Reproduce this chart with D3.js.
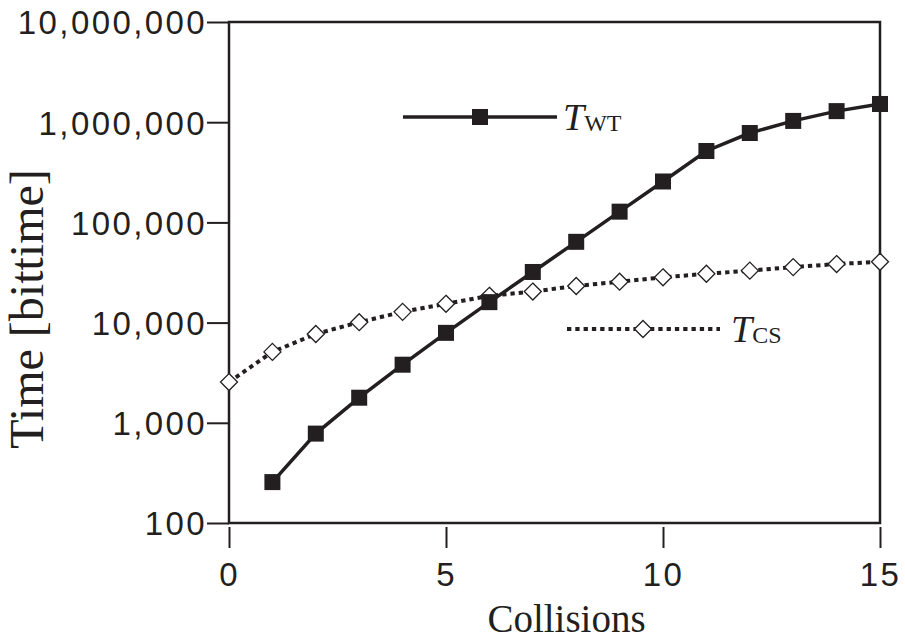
<!DOCTYPE html>
<html>
<head>
<meta charset="utf-8">
<script src="https://cdn.jsdelivr.net/npm/d3@7"></script>
<style>
  body { margin: 0; background: #fff; }
</style>
</head>
<body>
<svg id="chart" width="905" height="641"></svg>
<script>
// data
const collisions = d3.range(0, 16);
const twtX = d3.range(1, 16);
const twt = [256, 780, 1780, 3800, 7900, 16000, 32000, 64000, 128000, 256000,
             516000, 780000, 1030000, 1290000, 1520000];
const tcs = [2550, 5100, 7700, 10100, 12800, 15400, 18500, 20400, 23200, 25600,
             28300, 30700, 33000, 35800, 38400, 40500];
const yTicks = [100, 1000, 10000, 100000, 1000000, 10000000];
const xTicks = [0, 5, 10, 15];

const ink = '#231f20';
const sans = '"Liberation Sans", Arial, sans-serif';
const serif = '"Liberation Serif", "Times New Roman", serif';
const svg = d3.select('#chart');
const plotL = 229, plotR = 880, plotT = 22, plotB = 523;

const x = d3.scaleLinear().domain([0, 15]).range([plotL, plotR]);
const y = d3.scaleLog().domain([100, 1e7]).range([plotB, plotT]);

// frame
svg.append('rect')
  .attr('x', plotL).attr('y', plotT)
  .attr('width', plotR - plotL).attr('height', plotB - plotT)
  .attr('fill', 'none').attr('stroke', ink).attr('stroke-width', 2.5);

// y axis
const yAxis = svg.append('g')
  .attr('transform', `translate(${plotL},0)`)
  .call(d3.axisLeft(y).tickValues(yTicks).tickFormat(d3.format(',')).tickSize(22).tickPadding(0));
yAxis.select('.domain').remove();
yAxis.selectAll('line').attr('stroke', ink).attr('stroke-width', 2);
yAxis.selectAll('text')
  .attr('font-family', sans)
  .attr('font-size', 33).attr('fill', ink)
  .attr('letter-spacing', 2.4)
  .attr('dy', '0.36em');

// x axis (ticks drawn below the frame with a small gap)
const xAxis = svg.append('g')
  .attr('transform', `translate(0,${plotB + 4})`)
  .call(d3.axisBottom(x).tickValues(xTicks).tickSize(21).tickPadding(15));
xAxis.select('.domain').remove();
xAxis.selectAll('line').attr('stroke', ink).attr('stroke-width', 2);
xAxis.selectAll('text')
  .attr('font-family', sans)
  .attr('font-size', 33).attr('fill', ink)
  .attr('letter-spacing', 2.4);

// axis titles
svg.append('text')
  .attr('x', (plotL + plotR) / 2 + 12).attr('y', 632)
  .attr('text-anchor', 'middle')
  .attr('font-family', serif)
  .attr('font-size', 39).attr('fill', ink)
  .text('Collisions');

svg.append('text')
  .attr('transform', 'translate(43,309) rotate(-90)')
  .attr('text-anchor', 'middle')
  .attr('font-family', serif)
  .attr('font-size', 48).attr('fill', ink)
  .text('Time [bittime]');

// series
const line = d3.line();

svg.append('path')
  .datum(tcs.map((v, i) => [x(collisions[i]), y(v)]))
  .attr('d', line)
  .attr('fill', 'none').attr('stroke', ink)
  .attr('stroke-width', 4).attr('stroke-dasharray', '4.3,4');

svg.append('path')
  .datum(twt.map((v, i) => [x(twtX[i]), y(v)]))
  .attr('d', line)
  .attr('fill', 'none').attr('stroke', ink).attr('stroke-width', 3.5);

const diamond = (cx, cy, r) => `M${cx},${cy - r}L${cx + r},${cy}L${cx},${cy + r}L${cx - r},${cy}Z`;

svg.append('g').selectAll('path')
  .data(tcs)
  .join('path')
  .attr('d', (d, i) => diamond(x(collisions[i]), y(d), 8.5))
  .attr('fill', '#fff').attr('stroke', ink).attr('stroke-width', 1.3);

svg.append('g').selectAll('rect')
  .data(twt)
  .join('rect')
  .attr('x', (d, i) => x(twtX[i]) - 8)
  .attr('y', d => y(d) - 8)
  .attr('width', 16).attr('height', 16)
  .attr('fill', ink);

// legends
const lg1 = svg.append('g');
lg1.append('line').attr('x1', 403).attr('x2', 557).attr('y1', 117).attr('y2', 117)
  .attr('stroke', ink).attr('stroke-width', 3.5);
lg1.append('rect').attr('x', 472).attr('y', 109).attr('width', 16).attr('height', 16).attr('fill', ink);
const t1 = lg1.append('text').attr('x', 563).attr('y', 130)
  .attr('font-family', serif).attr('fill', ink);
t1.append('tspan').attr('font-size', 38).attr('font-style', 'italic').text('T');
t1.append('tspan').attr('font-size', 24).attr('dy', 1).text('WT');

const lg2 = svg.append('g');
lg2.append('line').attr('x1', 567).attr('x2', 720).attr('y1', 329).attr('y2', 329)
  .attr('stroke', ink).attr('stroke-width', 4).attr('stroke-dasharray', '4.3,4');
lg2.append('path').attr('d', diamond(643, 329, 8.5))
  .attr('fill', '#fff').attr('stroke', ink).attr('stroke-width', 1.3);
const t2 = lg2.append('text').attr('x', 731).attr('y', 342)
  .attr('font-family', serif).attr('fill', ink);
t2.append('tspan').attr('font-size', 38).attr('font-style', 'italic').text('T');
t2.append('tspan').attr('font-size', 24).attr('dy', 1).text('CS');
</script>
</body>
</html>
